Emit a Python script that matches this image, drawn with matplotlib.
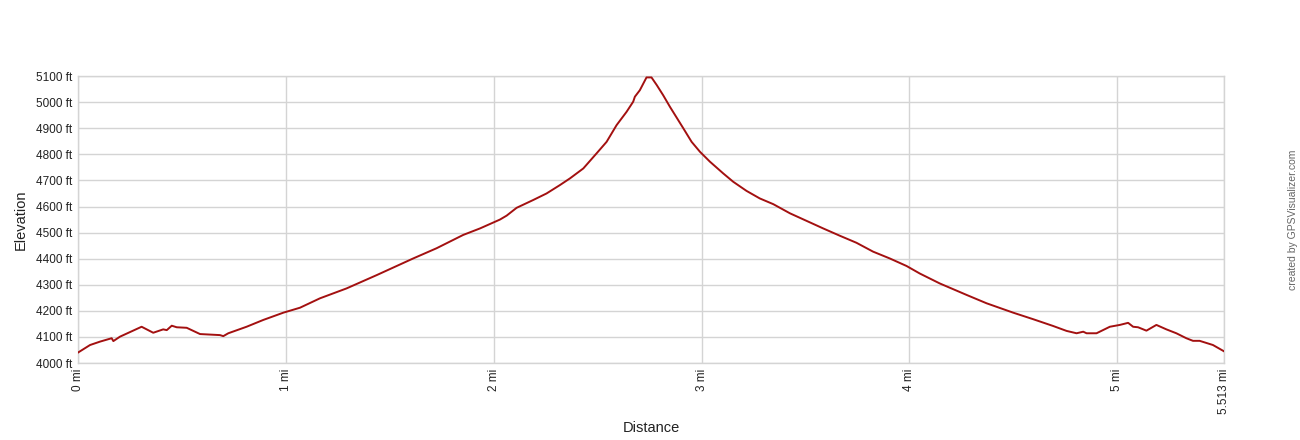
import matplotlib
matplotlib.use("Agg")
import matplotlib.pyplot as plt

plt.rcParams['font.family'] = ['Liberation Sans', 'DejaVu Sans']

distance_mi = [0.0, 0.058, 0.106, 0.162, 0.170, 0.202, 0.306, 0.362, 0.410, 0.427, 0.451,
               0.475, 0.523, 0.587, 0.683, 0.699, 0.723, 0.811, 0.891, 0.988, 1.068,
               1.164, 1.292, 1.437, 1.613, 1.725, 1.853, 1.934, 2.030, 2.062, 2.110,
               2.190, 2.254, 2.318, 2.367, 2.431, 2.495, 2.543, 2.591, 2.639, 2.671,
               2.679, 2.703, 2.735, 2.759, 2.784, 2.815, 2.848, 2.912, 2.952, 2.992,
               3.040, 3.104, 3.152, 3.216, 3.280, 3.345, 3.425, 3.505, 3.585, 3.665,
               3.745, 3.825, 3.905, 3.986, 4.050, 4.146, 4.275, 4.371, 4.499, 4.595,
               4.691, 4.756, 4.804, 4.836, 4.852, 4.900, 4.964, 5.012, 5.052, 5.076,
               5.100, 5.140, 5.188, 5.236, 5.284, 5.332, 5.364, 5.396, 5.460, 5.513]
elevation_ft = [4040, 4069, 4082, 4095, 4084, 4101, 4139, 4116, 4129, 4126, 4143,
                4137, 4135, 4111, 4107, 4103, 4114, 4139, 4165, 4193, 4212,
                4248, 4286, 4337, 4401, 4440, 4491, 4516, 4550, 4565, 4595,
                4625, 4650, 4682, 4708, 4746, 4804, 4848, 4912, 4963, 5002,
                5021, 5046, 5095, 5095, 5066, 5027, 4982, 4900, 4848, 4810,
                4772, 4727, 4695, 4660, 4631, 4609, 4574, 4545, 4516, 4488,
                4461, 4427, 4401, 4372, 4343, 4305, 4261, 4229, 4193, 4168,
                4142, 4123, 4114, 4120, 4114, 4114, 4139, 4146, 4154, 4139,
                4137, 4124, 4146, 4129, 4114, 4095, 4085, 4085, 4069, 4045]

x_ticks = [0, 1, 2, 3, 4, 5, 5.513]
x_tick_labels = ["0 mi", "1 mi", "2 mi", "3 mi", "4 mi", "5 mi", "5.513 mi"]
y_ticks = [4000, 4100, 4200, 4300, 4400, 4500, 4600, 4700, 4800, 4900, 5000, 5100]
y_tick_labels = [f"{v} ft" for v in y_ticks]

fig = plt.figure(figsize=(13, 4.4), dpi=100)
ax = fig.add_axes([0.06, 0.175, 0.8815, 0.652])

ax.plot(distance_mi, elevation_ft, color='#a31010', linewidth=1.4, zorder=3)

ax.set_xlim(0, 5.513)
ax.set_ylim(4000, 5100)
ax.set_xticks(x_ticks)
ax.set_xticklabels(x_tick_labels, rotation=90, fontsize=8.5, color='#222222')
ax.set_yticks(y_ticks)
ax.set_yticklabels(y_tick_labels, fontsize=8.5, color='#222222')
ax.tick_params(axis='both', length=0, pad=4)
ax.grid(True, color='#d4d4d4', linewidth=1.0, zorder=0)
for s in ax.spines.values():
    s.set_color('#d4d4d4')
    s.set_linewidth(1.0)

ax.set_ylabel("Elevation", fontsize=10.5, color='#222222', labelpad=6)
ax.set_xlabel("Distance", fontsize=10.5, color='#222222', labelpad=5)

fig.text(0.9945, 0.5, "created by GPSVisualizer.com", rotation=90, fontsize=7.5,
         color='#666666', ha='center', va='center')

fig.savefig("out.png", dpi=100, facecolor='white')
